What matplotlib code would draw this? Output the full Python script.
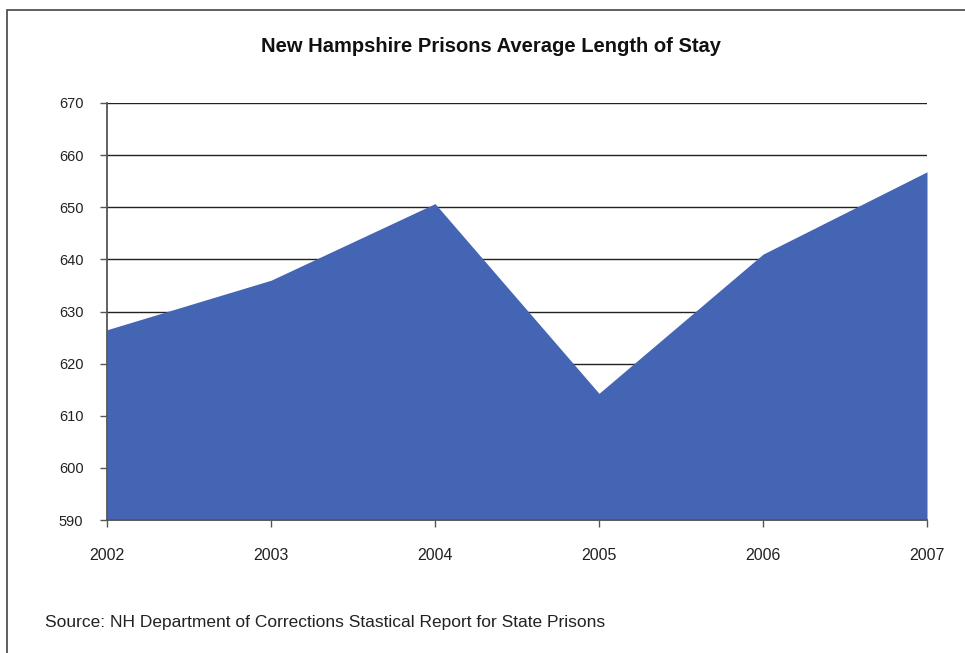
import matplotlib.pyplot as plt
from matplotlib.patches import Rectangle

years = [2002, 2003, 2004, 2005, 2006, 2007]
avg_stay = [626.5, 636, 650.7, 614.3, 641, 656.8]
y_ticks = list(range(590, 680, 10))

FILL = "#4464b4"
plt.rcParams["font.family"] = ["Liberation Sans", "DejaVu Sans"]

fig = plt.figure(figsize=(9.65, 6.53), dpi=100)
ax = fig.add_axes([107 / 965, 1 - 520 / 653, 820 / 965, 417 / 653])

ax.fill_between(years, avg_stay, 590, color=FILL, linewidth=0, zorder=2)

ax.set_xlim(years[0], years[-1])
ax.set_ylim(590, 670)
ax.set_yticks(y_ticks)
ax.set_xticks(years)
ax.set_xticklabels([str(y) for y in years], fontsize=11.5, color="#222222")
ax.set_yticklabels([str(v) for v in y_ticks], fontsize=10.5, color="#222222")
ax.tick_params(axis="x", length=5, width=1, color="#555555", pad=15)
ax.tick_params(axis="y", length=5, width=1, color="#555555", pad=12)

ax.grid(axis="y", color="#222222", linewidth=1, zorder=1)
ax.set_axisbelow(True)
for side in ("top", "right"):
    ax.spines[side].set_visible(False)
ax.spines["left"].set_color("#555555")
ax.spines["bottom"].set_color("#555555")
ax.spines["left"].set_linewidth(1.3)
ax.spines["bottom"].set_linewidth(1.3)

fig.text(491 / 965, 1 - 47 / 653, "New Hampshire Prisons Average Length of Stay",
         ha="center", va="center", fontsize=14.5, fontweight="semibold",
         color="#111111")
fig.text(45 / 965, 1 - 622 / 653,
         "Source: NH Department of Corrections Stastical Report for State Prisons",
         ha="left", va="center", fontsize=12.5, color="#222222")

# outer frame of the chart area
fig.patches.append(Rectangle((7 / 965, -0.1), 1.2, 1 - 10 / 653 + 0.1,
                             transform=fig.transFigure, fill=False,
                             edgecolor="#444444", linewidth=1.2))

fig.savefig("out.png", dpi=100)
